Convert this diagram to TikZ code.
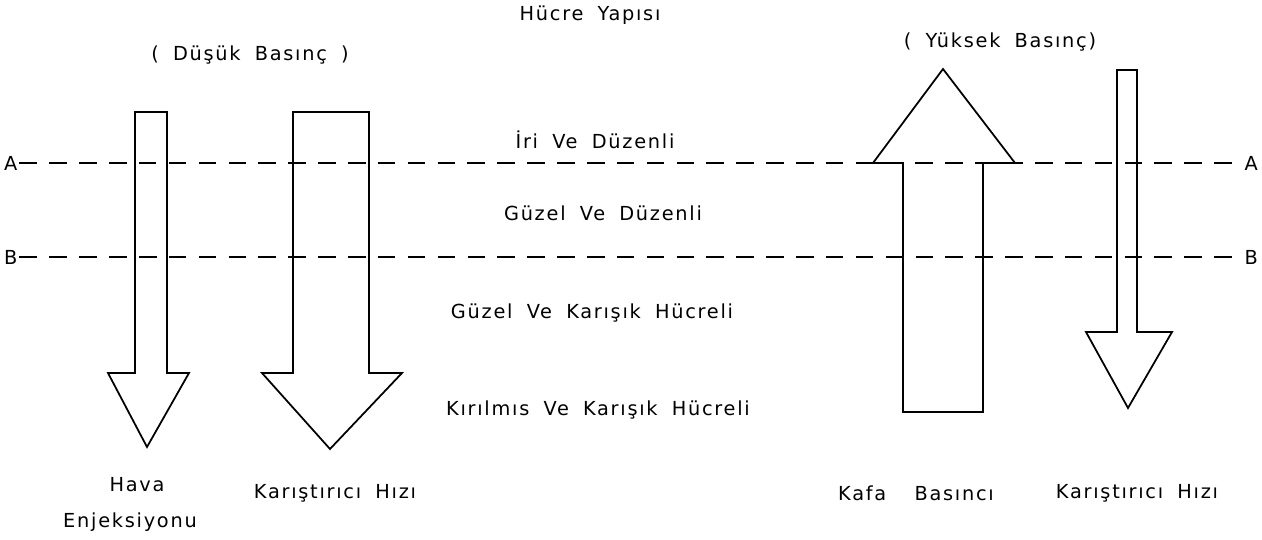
\documentclass[tikz,border=0pt]{standalone}
\usepackage{fontspec}
\newfontfamily\letterfont{DejaVu Sans}[LetterSpace=9.0,WordSpace=1.8]
\usetikzlibrary{positioning}

\begin{document}
\begin{tikzpicture}[x=0.02cm, y=-0.02cm,
    every node/.style={align=center, font=\letterfont\fontsize{11}{13}\selectfont, inner sep=1pt},
    arrowshape/.style={draw, line width=1pt, line join=miter},
    levelline/.style={dashed, dash pattern=on 10pt off 7pt, line width=1pt}]
  \useasboundingbox (0,0) rectangle (1262,540);
  % headings
  \node (title) at (590,15) {Hücre Yapısı};
  \node (low) at (250,55) {( Düşük Basınç )};
  \node (high) at (1000,42) {( Yüksek Basınç)};
  % level lines
  \node[anchor=west] (Aleft) at (2,163) {A};
  \node[anchor=east] (Aright) at (1260,163) {A};
  \node[anchor=west] (Bleft) at (2,257) {B};
  \node[anchor=east] (Bright) at (1260,257) {B};
  \draw[levelline] (Aleft) -- (Aright);
  \draw[levelline] (Bleft) -- (Bright);
  % cell structure zones
  \node (coarse) at (595,140) {İri Ve Düzenli};
  \node (fine) at (603,213) {Güzel Ve Düzenli};
  \node (mixed) at (592,313) {Güzel Ve Karışık Hücreli};
  \node (broken) at (598,410) {Kırılmıs Ve Karışık Hücreli};
  % big arrows
  \draw[arrowshape] (135,112) -- (167,112) -- (167,373) -- (189,373) -- (147,447)
    -- (108,373) -- (135,373) -- cycle;
  \draw[arrowshape] (293,112) -- (369,112) -- (369,373) -- (402,373) -- (330,449)
    -- (262,373) -- (293,373) -- cycle;
  \draw[arrowshape] (903,412) -- (903,163) -- (873,163) -- (943,69) -- (1015,163)
    -- (983,163) -- (983,412) -- cycle;
  \draw[arrowshape] (1117,70) -- (1137,70) -- (1137,332) -- (1172,332) -- (1128,408)
    -- (1086,332) -- (1117,332) -- cycle;
  % parameter labels
  \node (air) at (137,485) {Hava};
  \node (inj) at (130,522) {Enjeksiyonu};
  \node (mixL) at (335,493) {Karıştırıcı Hızı};
  \node (head) at (916,493) {Kafa \ Basıncı};
  \node (mixR) at (1137,493) {Karıştırıcı Hızı};
\end{tikzpicture}
\end{document}
